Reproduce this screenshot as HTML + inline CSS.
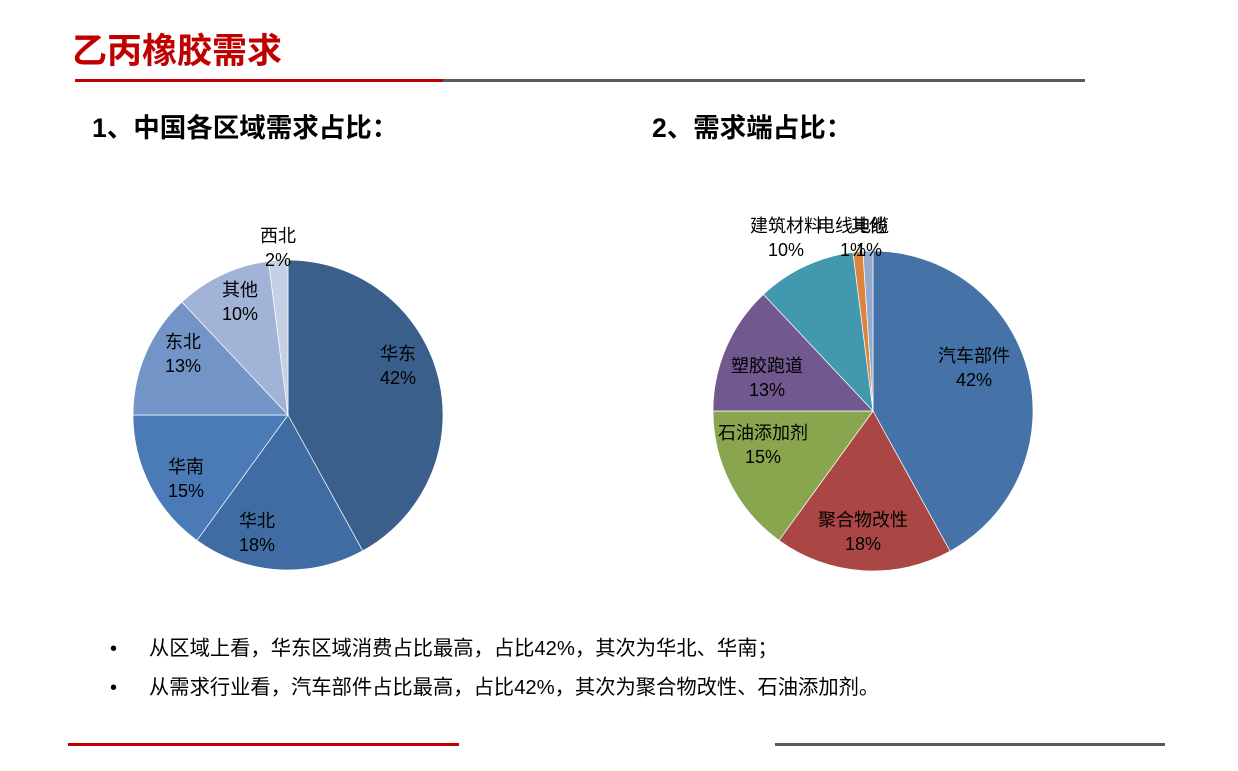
<!DOCTYPE html>
<html><head><meta charset="utf-8"><style>
body{margin:0;width:1238px;height:771px;background:#fff;overflow:hidden;position:relative;font-family:"Liberation Sans","Noto Sans CJK SC",sans-serif}
.a{position:absolute;white-space:nowrap}
</style></head><body>
<div class="a" style="left:72px;top:30px;font-size:35px;font-weight:bold;color:#c00000;line-height:44px">乙丙橡胶需求</div>
<div class="a" style="left:75px;top:79px;width:368px;height:3px;background:#c00000"></div>
<div class="a" style="left:443px;top:79px;width:642px;height:3px;background:#5a5a5a"></div>
<div class="a" style="left:92px;top:112px;font-size:26.5px;font-weight:bold;line-height:32px">1、中国各区域需求占比：</div>
<div class="a" style="left:652px;top:112px;font-size:26.5px;font-weight:bold;line-height:32px">2、需求端占比：</div>
<svg class="a" style="left:0;top:0" width="1238" height="771" id="s"></svg>
<div class="a" style="left:110px;top:637px;font-size:20px;line-height:24px">•</div>
<div class="a" style="left:149px;top:637px;font-size:20.3px;line-height:24px">从区域上看，华东区域消费占比最高，占比42%，其次为华北、华南；</div>
<div class="a" style="left:110px;top:676px;font-size:20px;line-height:24px">•</div>
<div class="a" style="left:149px;top:676px;font-size:20.3px;line-height:24px">从需求行业看，汽车部件占比最高，占比42%，其次为聚合物改性、石油添加剂。</div>
<div class="a" style="left:68px;top:743px;width:391px;height:3px;background:#c00000"></div>
<div class="a" style="left:775px;top:743px;width:390px;height:3px;background:#5a5a5a"></div>
<script>
var s=document.getElementById('s'),h='';
function pie(cx,cy,r,d){var a=0;d.forEach(function(e){var a2=a+e[0]/100*2*Math.PI;
var x1=cx+r*Math.sin(a),y1=cy-r*Math.cos(a),x2=cx+r*Math.sin(a2),y2=cy-r*Math.cos(a2);
h+='<path d="M'+cx+','+cy+'L'+x1+','+y1+'A'+r+','+r+' 0 '+(a2-a>Math.PI?1:0)+',1 '+x2+','+y2+'Z" fill="'+e[1]+'" stroke="#fff" stroke-width="0.7"/>';a=a2;});}
pie(288,415,155,[[42,'#3a5f8b'],[18,'#3f6da3'],[15,'#4a7bb7'],[13,'#7294c6'],[10,'#a1b3d6'],[2,'#c5d0e5']]);
pie(873,411,160,[[42,'#4572a7'],[18,'#aa4643'],[15,'#89a54e'],[13,'#71588f'],[10,'#4198af'],[1,'#db843d'],[1,'#93a9cf']]);
var L=[[398,354,'华东','42%'],[257,521,'华北','18%'],[186,467,'华南','15%'],[183,342,'东北','13%'],[240,290,'其他','10%'],[278,236,'西北','2%'],
[974,356,'汽车部件','42%'],[863,520,'聚合物改性','18%'],[763,433,'石油添加剂','15%'],[767,366,'塑胶跑道','13%'],[786,226,'建筑材料','10%'],[853,226,'电线电缆','1%'],[869,226,'其他','1%']];
L.forEach(function(l){h+='<text x="'+l[0]+'" y="'+(l[1]+6)+'" font-size="18" text-anchor="middle" font-family="Liberation Sans,Noto Sans CJK SC,sans-serif">'+l[2]+'</text><text x="'+l[0]+'" y="'+(l[1]+30)+'" font-size="18" text-anchor="middle" font-family="Liberation Sans,sans-serif">'+l[3]+'</text>';});
s.innerHTML=h;
</script>
</body></html>
